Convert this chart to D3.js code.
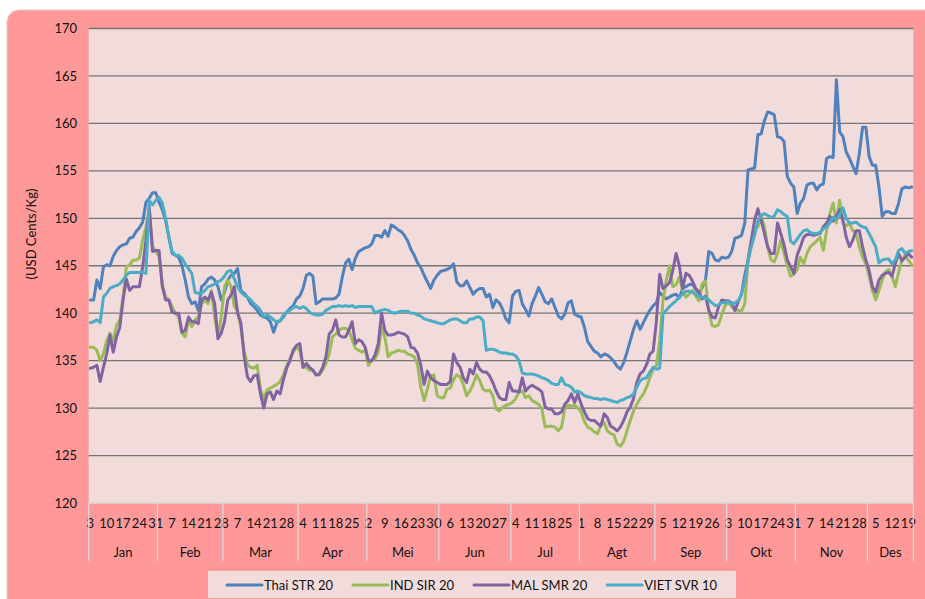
<!DOCTYPE html>
<html>
<head>
<meta charset="utf-8">
<script src="https://cdn.jsdelivr.net/npm/d3@7"></script>
<style>
  body { margin: 0; background: #fff; }
  text { font-family: Lato, "Open Sans", sans-serif; fill: #111; }
</style>
</head>
<body>
<script>
// daily prices (weekdays), 2011
var firstDay = new Date(2011, 0, 3);
var dayCount = 252;
var monthNames = ["Jan", "Feb", "Mar", "Apr", "Mei", "Jun", "Jul", "Agt", "Sep", "Okt", "Nov", "Des"];
var yTicks = [120, 125, 130, 135, 140, 145, 150, 155, 160, 165, 170];
var seriesNames = ["Thai STR 20", "IND SIR 20", "MAL SMR 20", "VIET SVR 10"];
var seriesColors = ["#4F81BD", "#9BBB59", "#8064A2", "#4BACC6"];

var thai = [
  141.4,141.4,143.5,142.6,144.9,145.1,145.0,146.0,146.6,147.0,
  147.2,147.3,147.9,148.0,148.6,149.0,149.6,151.7,152.1,152.7,
  152.7,151.7,150.9,149.8,148.0,146.3,146.1,145.9,145.0,143.5,
  141.7,141.0,141.2,140.3,142.8,143.1,143.6,143.8,143.5,142.8,
  141.4,142.2,143.5,144.0,144.2,144.7,142.4,142.1,141.7,141.0,
  140.7,140.3,139.8,139.6,139.5,139.1,138.0,139.0,139.2,139.6,
  140.1,140.5,140.8,141.5,141.8,142.6,144.0,144.2,143.9,141.0,
  141.2,141.5,141.5,141.5,141.5,141.6,142.0,143.8,145.3,145.7,
  144.6,145.8,146.5,146.7,146.9,147.0,147.3,148.2,148.2,148.0,
  148.7,148.1,149.3,149.1,148.8,148.6,148.2,147.6,146.7,146.1,
  145.3,144.8,144.0,143.3,142.6,143.5,144.0,144.4,144.5,144.6,
  144.8,145.2,143.3,142.9,142.9,143.4,142.7,142.0,142.4,142.6,
  142.6,141.7,142.0,140.6,141.4,141.1,140.4,139.4,139.0,141.8,
  142.3,142.4,141.0,140.4,139.7,141.0,141.8,142.7,142.0,141.2,
  141.0,141.5,140.6,139.7,139.4,139.9,141.1,141.3,139.9,139.7,
  139.6,138.5,137.0,136.5,136.0,135.8,135.4,135.7,135.6,135.3,
  134.9,134.4,134.1,134.8,135.9,137.1,138.3,139.2,138.3,139.0,
  139.7,140.3,140.8,141.1,142.2,141.8,141.5,141.7,141.9,142.0,
  141.6,142.6,142.8,143.0,143.1,142.5,142.1,142.7,143.5,146.5,
  146.3,145.6,145.5,145.9,145.8,145.9,146.5,147.9,148.0,148.2,
  149.5,155.1,155.2,155.3,158.8,158.9,160.3,161.2,161.1,160.9,
  158.6,158.5,158.1,154.4,153.7,153.3,150.5,151.6,152.1,153.5,
  153.7,153.7,153.0,153.5,153.6,156.3,156.5,156.4,164.6,159.1,
  158.6,157.0,156.3,155.5,154.7,156.8,159.6,159.6,156.5,155.6,
  155.6,153.3,150.2,150.7,150.7,150.5,150.5,151.6,153.1,153.3,
  153.2,153.3
];

var ind = [
  136.4,136.4,136.1,135.0,135.7,137.1,137.9,137.1,138.7,139.3,
  141.7,144.9,145.1,145.6,145.6,145.8,147.7,149.1,151.0,147.0,
  146.6,145.9,143.1,141.7,141.4,140.7,140.0,139.6,137.9,137.5,
  139.3,138.6,139.3,139.6,141.0,141.4,141.0,142.4,139.6,137.6,
  139.6,142.8,143.5,142.8,140.7,140.3,138.5,136.0,134.6,134.3,
  134.2,134.5,132.0,131.0,131.9,132.1,132.3,132.5,132.8,133.5,
  134.5,135.2,135.9,136.4,136.1,134.3,134.3,134.0,134.0,133.5,
  133.5,134.0,134.7,135.7,137.5,137.8,138.2,138.4,138.4,138.2,
  137.2,136.3,136.1,135.9,136.1,134.5,135.0,135.2,135.9,138.5,
  137.5,135.4,135.8,135.9,136.1,136.0,136.0,135.7,135.6,135.4,
  134.6,132.2,130.8,132.0,133.4,133.5,131.3,131.1,131.1,132.0,
  132.1,133.0,133.5,133.3,132.5,131.3,131.8,132.5,133.5,132.9,
  132.0,131.8,131.9,131.3,129.9,129.7,130.1,130.3,130.4,130.6,
  131.0,131.7,131.8,131.1,131.3,130.8,130.6,130.4,129.9,128.0,
  128.1,128.1,128.0,127.6,128.0,129.9,130.3,130.2,130.3,130.0,
  129.6,128.6,128.0,127.8,127.5,127.3,128.2,128.5,127.6,127.3,
  127.2,126.2,126.0,126.5,127.6,128.7,129.7,130.4,131.0,131.5,
  132.2,133.2,134.1,134.5,137.1,141.3,143.4,145.0,142.8,143.0,
  143.8,142.4,141.7,142.0,142.4,141.8,141.3,143.1,143.4,140.2,
  138.7,138.6,138.8,139.9,140.8,141.1,140.7,140.3,140.3,140.2,
  141.0,145.5,147.7,148.7,149.1,150.2,149.1,147.0,145.6,145.4,
  146.3,147.7,146.3,145.0,143.9,144.1,144.6,145.9,145.2,146.3,
  147.0,147.3,147.6,148.0,146.6,148.7,150.5,151.6,149.5,151.9,
  149.5,149.2,149.5,148.7,148.4,147.0,145.9,145.2,143.9,142.4,
  141.4,142.4,143.5,144.4,144.6,143.9,142.8,144.3,145.6,146.1,
  145.6,145.1
];

var mal = [
  134.2,134.3,134.5,132.8,134.3,135.7,137.7,135.9,137.5,138.5,
  141.4,143.6,142.4,142.8,142.8,142.8,144.9,147.7,151.2,146.5,
  146.6,146.6,142.8,141.4,141.4,140.1,140.0,140.0,138.0,138.2,
  139.6,139.1,139.1,138.9,141.4,141.7,141.4,142.2,141.0,137.3,
  137.9,139.1,141.4,141.9,142.8,140.0,139.0,135.5,133.3,132.8,
  133.4,133.5,131.5,130.0,131.5,131.7,130.9,131.8,131.5,133.0,
  134.2,135.0,136.1,136.6,136.8,134.3,134.7,134.3,134.0,133.5,
  133.6,134.3,135.4,137.8,138.2,139.3,137.7,137.5,137.5,138.2,
  139.1,136.8,137.2,137.0,136.4,135.0,135.0,135.6,136.8,140.0,
  138.2,137.7,137.7,137.8,138.0,137.9,137.8,137.5,136.4,136.3,
  135.8,134.5,132.5,133.9,133.2,132.9,132.7,132.5,132.5,132.5,
  132.8,135.7,134.8,134.3,133.2,132.7,134.1,133.6,134.8,134.1,
  133.8,133.8,133.4,132.7,131.8,131.1,130.9,130.9,132.7,131.8,
  131.8,131.7,133.2,131.8,132.2,132.4,132.2,132.0,131.7,130.1,
  129.9,129.9,129.4,129.4,129.6,130.4,130.8,131.5,130.6,131.5,
  130.4,129.6,128.9,128.7,128.7,128.4,128.1,129.4,129.0,128.1,
  127.9,127.6,128.0,128.7,129.6,130.1,131.0,132.7,133.6,133.9,
  134.6,135.7,136.0,139.2,144.1,142.6,142.9,143.2,144.5,146.3,
  145.0,142.6,144.2,144.0,143.4,142.6,142.2,141.5,141.8,140.3,
  139.6,139.5,140.7,141.4,141.3,141.3,141.1,140.3,141.2,142.0,
  144.0,145.6,147.7,149.8,151.0,149.8,148.4,147.0,146.3,146.3,
  149.5,148.4,147.2,145.6,144.9,144.2,146.1,147.0,148.0,148.3,
  148.3,148.2,148.3,148.4,149.1,149.5,150.2,149.7,150.2,150.9,
  149.8,148.0,147.0,147.7,148.7,148.7,147.0,145.6,144.5,142.8,
  142.2,143.5,144.0,144.2,144.3,143.9,145.2,146.3,145.5,145.9,
  146.3,145.9
];

var viet = [
  139.0,139.1,139.3,139.0,141.7,142.1,142.6,142.8,142.9,143.1,
  143.5,144.0,144.3,144.3,144.3,144.3,144.3,144.2,151.9,151.4,
  151.9,152.2,151.6,150.0,148.0,146.5,146.1,146.1,145.8,145.2,
  144.7,144.2,142.2,142.1,142.1,142.4,142.8,142.9,143.1,143.3,
  143.5,143.9,144.4,144.5,143.6,142.8,142.2,141.9,141.7,141.4,
  141.0,140.7,140.3,139.6,139.8,139.6,139.3,139.1,139.2,139.8,
  140.1,140.3,140.6,140.7,140.5,140.7,140.5,140.1,139.9,139.8,
  139.8,139.9,140.3,140.5,140.7,140.7,140.8,140.7,140.8,140.7,
  140.8,140.6,140.7,140.7,140.7,140.7,140.7,140.0,140.2,140.3,
  140.4,140.3,140.1,140.0,140.1,140.2,140.2,140.2,140.0,140.0,
  139.8,139.7,139.4,139.3,139.2,139.1,139.0,138.9,138.9,139.1,
  139.3,139.4,139.4,139.2,139.0,139.0,139.4,139.4,139.6,139.6,
  139.2,136.1,136.2,136.2,136.1,135.9,135.8,135.8,135.7,135.7,
  135.5,135.0,133.7,133.6,133.6,133.6,133.5,133.4,133.2,133.1,
  132.9,132.6,132.5,132.5,133.2,132.5,132.4,132.2,131.7,131.8,
  131.6,131.3,131.2,131.1,131.0,131.0,130.9,131.0,130.9,130.8,
  130.7,130.6,130.8,130.9,131.1,131.2,131.5,132.2,132.9,133.1,
  133.2,133.8,134.3,134.1,134.2,139.9,140.3,140.7,141.0,141.3,
  141.7,142.0,142.3,142.3,142.2,142.0,141.8,141.7,141.6,141.4,
  141.1,140.8,140.9,141.1,141.1,141.3,140.9,141.1,141.3,142.0,
  143.3,145.5,147.0,148.2,149.7,150.3,150.5,150.3,150.1,150.2,
  150.9,150.7,150.4,150.2,147.6,147.3,147.8,148.3,148.7,148.8,
  148.5,148.4,148.4,148.5,148.9,149.1,149.5,150.1,149.9,150.4,
  151.1,150.0,149.5,149.5,149.6,149.3,149.1,149.0,148.4,147.7,
  147.0,145.3,145.6,145.7,145.7,145.2,145.6,146.6,146.8,146.3,
  146.5,146.6
];

// weekday calendar for the category axis
var categories = [];
for (var d = new Date(firstDay); categories.length < dayCount; d.setDate(d.getDate() + 1)) {
  if (d.getDay() !== 0 && d.getDay() !== 6) categories.push(new Date(d));
}

var W = 925, H = 599;
var plot = { left: 88.7, right: 913.3, top: 28.5, bottom: 503 };

var svg = d3.select("body").append("svg")
  .attr("width", W)
  .attr("height", H);

// chart area
svg.append("rect")
  .attr("x", 7).attr("y", 10)
  .attr("width", 945).attr("height", 620)
  .attr("rx", 12)
  .attr("fill", "#FF9999")
  .attr("stroke", "#e4c8c8");

// plot area
svg.append("rect")
  .attr("x", plot.left).attr("y", plot.top)
  .attr("width", plot.right - plot.left).attr("height", plot.bottom - plot.top)
  .attr("fill", "#F2DCDB");

var x = d3.scaleBand()
  .domain(d3.range(dayCount))
  .range([plot.left, plot.right])
  .padding(0);
var bw = x.bandwidth();

var y = d3.scaleLinear()
  .domain([120, 170])
  .range([plot.bottom, plot.top]);

// gridlines
svg.append("g").selectAll("line")
  .data(yTicks.filter(function(v) { return v > 120; }))
  .enter().append("line")
  .attr("x1", plot.left).attr("x2", plot.right)
  .attr("y1", function(v) { return y(v); })
  .attr("y2", function(v) { return y(v); })
  .attr("stroke", "#747474")
  .attr("stroke-width", 1.3);

// y labels
svg.append("g").selectAll("text")
  .data(yTicks)
  .enter().append("text")
  .attr("x", 77)
  .attr("y", function(v) { return y(v); })
  .attr("dy", "0.35em")
  .attr("text-anchor", "end")
  .style("font-size", "13px")
  .text(function(v) { return v; });

svg.append("text")
  .attr("transform", "translate(31,234) rotate(-90)")
  .attr("text-anchor", "middle")
  .attr("dy", "0.35em")
  .style("font-size", "13px")
  .text("(USD Cents/Kg)");

// category axis: day labels every 5th point, months below
var axisBottom = 561;
svg.append("line")
  .attr("x1", plot.left).attr("x2", plot.right)
  .attr("y1", y(120)).attr("y2", y(120))
  .attr("stroke", "#d9d9d9").attr("stroke-width", 1.5);

svg.append("g").selectAll("text")
  .data(d3.range(0, dayCount, 5))
  .enter().append("text")
  .attr("x", function(i) { return x(i) + bw / 2; })
  .attr("y", 528)
  .attr("text-anchor", "middle")
  .style("font-size", "13px")
  .text(function(i) { return categories[i].getDate(); });

var months = d3.groups(d3.range(dayCount), function(i) { return categories[i].getMonth(); });

svg.append("g").selectAll("line")
  .data(months.map(function(m) { return x(m[1][0]); }).concat([plot.right]))
  .enter().append("line")
  .attr("x1", function(v) { return v; }).attr("x2", function(v) { return v; })
  .attr("y1", y(120)).attr("y2", axisBottom)
  .attr("stroke", "#d9d9d9").attr("stroke-width", 1.2);

svg.append("g").selectAll("text")
  .data(months)
  .enter().append("text")
  .attr("x", function(m) {
    var a = m[1][0], b = m[1][m[1].length - 1];
    return (x(a) + x(b) + bw) / 2;
  })
  .attr("y", 557)
  .attr("text-anchor", "middle")
  .style("font-size", "13px")
  .text(function(m) { return monthNames[m[0]]; });

// series
var series = [thai, ind, mal, viet].map(function(vals, k) {
  return { name: seriesNames[k], color: seriesColors[k], values: vals };
});

var line = d3.line()
  .x(function(v, i) { return x(i) + bw / 2; })
  .y(function(v) { return y(v); });

svg.append("g").selectAll("path")
  .data(series)
  .enter().append("path")
  .attr("d", function(s) { return line(s.values); })
  .attr("fill", "none")
  .attr("stroke", function(s) { return s.color; })
  .attr("stroke-width", 3)
  .attr("stroke-linejoin", "round")
  .attr("stroke-linecap", "round");

// legend
var legendBox = { x: 208, y: 571, w: 528, h: 27 };
svg.append("rect")
  .attr("x", legendBox.x).attr("y", legendBox.y)
  .attr("width", legendBox.w).attr("height", legendBox.h)
  .attr("fill", "#F2DCDB");

var legend = svg.append("g");
var cursor = 0;
series.forEach(function(s) {
  var g = legend.append("g").attr("transform", "translate(" + cursor + ",0)");
  g.append("line")
    .attr("x1", 0).attr("x2", 35)
    .attr("y1", 0).attr("y2", 0)
    .attr("stroke", s.color).attr("stroke-width", 3)
    .attr("stroke-linecap", "round");
  var t = g.append("text")
    .attr("x", 37).attr("y", 0).attr("dy", "0.35em")
    .style("font-size", "13px")
    .text(s.name);
  cursor += 37 + t.node().getComputedTextLength() + 20;
});
var legendWidth = cursor - 20;
legend.attr("transform", "translate(" + (legendBox.x + (legendBox.w - legendWidth) / 2) + "," + (legendBox.y + 14) + ")");
</script>
</body>
</html>
